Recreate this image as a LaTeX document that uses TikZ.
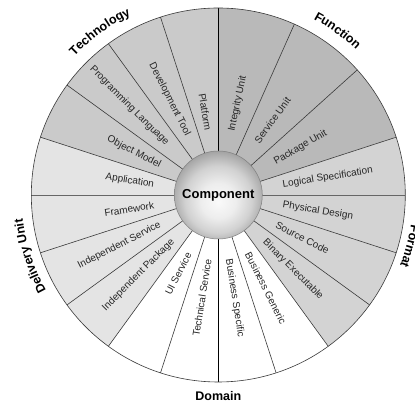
\documentclass[tikz,border=0pt]{standalone}
\usepackage{fontspec}
\setmainfont{Liberation Sans}
\usetikzlibrary{decorations.text}

\definecolor{funcfill}{HTML}{B9B9B9}
\definecolor{formfill}{HTML}{D3D3D3}
\definecolor{domfill}{HTML}{FFFFFF}
\definecolor{delfill}{HTML}{E4E4E4}
\definecolor{techfill}{HTML}{CACACA}
\definecolor{rimline}{HTML}{3A3A3A}
\definecolor{labeltext}{HTML}{262626}

% sphere-like shading for the hub, brightest a little below the middle
\pgfdeclareradialshading{hubshade}{\pgfpoint{0bp}{-4bp}}{%
  color(0bp)=(black!2);
  color(10bp)=(black!7);
  color(19bp)=(black!18);
  color(26bp)=(black!34);
  color(31bp)=(black!46);
  color(50bp)=(black!46)}

\def\rimR{187}
\def\hubR{44}
\def\textR{65}

\tikzset{
  sectorline/.style={draw=rimline, line width=0.6pt},
  axisline/.style={draw=black, line width=0.9pt},
  seclabel/.style={inner sep=0pt, text=labeltext,
    font=\fontsize{10}{12}\selectfont},
  grouplabel/.style={decorate,
    decoration={text along path, text align=center}},
}

\begin{document}
\begin{tikzpicture}[x=1pt,y=1pt]
\useasboundingbox (0,0) rectangle (415,406);
\fill[white] (0,0) rectangle (415,406);

\begin{scope}[shift={(218.3,211)}]
  \coordinate (hub) at (0,0);

  % coloured groups of sectors
  \foreach \a/\b/\col in {90/18/funcfill, 18/-54/formfill, -54/-126/domfill,
                          -126/-198/delfill, 162/90/techfill}
    \fill[\col] (hub) -- (\a:\rimR) arc[start angle=\a, end angle=\b, radius=\rimR] -- cycle;

  % sector boundaries
  \foreach \a in {66,42,18,-18,-36,-54,-72,-108,-126,-144,-162,162,144,126,108}
    \draw[sectorline] (hub) -- (\a:\rimR);
  \foreach \a in {90,-90}
    \draw[axisline] (hub) -- (\a:\rimR);
  \foreach \a in {0,180}
    \draw[draw=black!60, line width=0.9pt] (hub) -- (\a:\rimR);

  % outer rim
  \draw[sectorline] (hub) circle (\rimR);

  % hub
  \shade[shading=hubshade, draw=black!50, line width=0.5pt] (hub) circle (\hubR);
  \node[font=\fontsize{13}{15}\selectfont\bfseries, text=black] (comp) at (0,0) {Component};

  % sector labels, right half (read outward)
  \foreach \m/\t [count=\i] in {78/Integrity Unit, 54/Service Unit, 30/Package Unit,
      9/Logical Specification, -9/Physical Design, -27/Source Code,
      -45/Binary Executable, -63/Business Generic, -81/Business Specific}
    \node[seclabel, anchor=west, rotate=\m] (secR\i) at (\m:\textR) {\t};

  % sector labels, left half (read inward)
  \foreach \m/\t/\r [count=\i] in {-99/Technical Service/65, -117/UI Service/65,
      -135/Independent Package/64, -153/Independent Service/65,
      -171/Framework/65, -189/Application/65, 153/Object Model/65,
      135/Programming Language/72, 117/Development Tool/67, 99/Platform/65}
    \node[seclabel, anchor=east, rotate=\m+180] (secL\i) at (\m:\r) {\t};

  % group names around the rim
  \path[grouplabel, decoration={text={|\fontsize{12.5}{14}\selectfont\bfseries|Technology}}]
    (156:200) arc[start angle=156, end angle=96, radius=200];
  \path[grouplabel, decoration={text={|\fontsize{12.5}{14}\selectfont\bfseries|Function}}]
    (84:200) arc[start angle=84, end angle=24, radius=200];
  \path[grouplabel, decoration={text={|\fontsize{12.5}{14}\selectfont\bfseries|Format}}]
    (15:195) arc[start angle=15, end angle=-45, radius=195];
  \path[grouplabel, decoration={text={|\fontsize{12.5}{14}\selectfont\bfseries|Delivery Unit}}]
    (232:197) arc[start angle=232, end angle=164, radius=197];
  \node[font=\fontsize{12.5}{14}\selectfont\bfseries, anchor=base] (domain)
    at (0,-206) {Domain};
\end{scope}
\end{tikzpicture}
\end{document}
